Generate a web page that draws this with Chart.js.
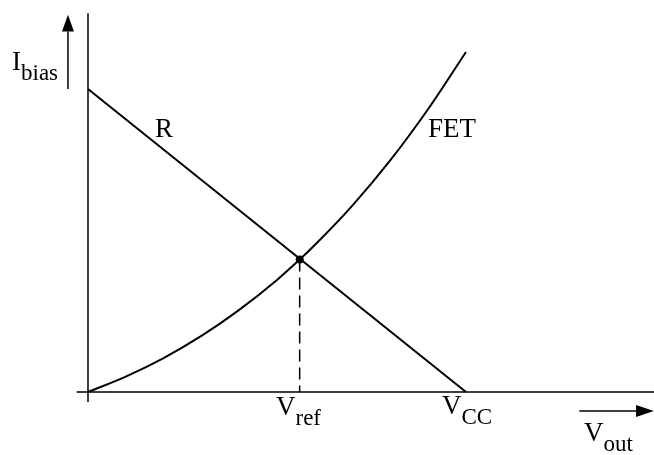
<!DOCTYPE html>
<html>
<head>
<meta charset="utf-8">
<script src="https://cdn.jsdelivr.net/npm/chart.js@4/dist/chart.umd.min.js"></script>
<style>
  html, body { margin: 0; padding: 0; background: #fff; }
  canvas { display: block; }
</style>
</head>
<body>
<canvas id="bias" width="654" height="455"></canvas>
<script>
// load line / FET operating point sketch
var vout = [0, 0.1, 0.2, 0.3, 0.4, 0.5, 0.56, 0.6, 0.7, 0.8, 0.9, 1.0];
var fetCurrent = [0, 0.051, 0.112, 0.185, 0.271, 0.37, 0.437, 0.485, 0.616, 0.765, 0.934, 1.122];
var resistorV = [0, 1];
var resistorI = [1, 0];
var vRef = 0.56;
var iRef = 0.437;

var serif = '"Liberation Serif", "Times New Roman", serif';

function pts(xs, ys) {
  return xs.map(function (x, i) { return { x: x, y: ys[i] }; });
}

function label(ctx, main, sub, x, y) {
  ctx.font = '27px ' + serif;
  ctx.fillText(main, x, y);
  if (sub) {
    var w = ctx.measureText(main).width;
    ctx.font = '23px ' + serif;
    ctx.fillText(sub, x + w, y + 10);
  }
}

// axes, arrows and text drawn on the library's scales
var sketch = {
  id: 'sketch',
  afterDatasetsDraw: function (chart) {
    var ctx = chart.ctx;
    var sx = chart.scales.x, sy = chart.scales.y;
    var px = function (v) { return sx.getPixelForValue(v); };
    var py = function (v) { return sy.getPixelForValue(v); };
    ctx.save();
    ctx.strokeStyle = '#000';
    ctx.fillStyle = '#000';
    ctx.lineWidth = 1.5;

    // axes
    ctx.beginPath();
    ctx.moveTo(px(0), py(1.25));
    ctx.lineTo(px(0), py(-0.033));
    ctx.moveTo(px(-0.03), py(0));
    ctx.lineTo(px(1.5), py(0));
    ctx.stroke();

    // I_bias arrow
    var ax = px(-0.053);
    ctx.beginPath();
    ctx.moveTo(ax, py(1.0));
    ctx.lineTo(ax, py(1.19));
    ctx.stroke();
    ctx.beginPath();
    ctx.moveTo(ax, py(1.245));
    ctx.lineTo(ax - 6, py(1.19));
    ctx.lineTo(ax + 6, py(1.19));
    ctx.closePath();
    ctx.fill();

    // V_out arrow
    var ay = py(-0.063);
    ctx.beginPath();
    ctx.moveTo(px(1.3), ay);
    ctx.lineTo(px(1.45), ay);
    ctx.stroke();
    ctx.beginPath();
    ctx.moveTo(px(1.497), ay);
    ctx.lineTo(px(1.45), ay - 6);
    ctx.lineTo(px(1.45), ay + 6);
    ctx.closePath();
    ctx.fill();

    ctx.textAlign = 'left';
    ctx.textBaseline = 'alphabetic';
    label(ctx, 'I', 'bias', 12, 70);
    label(ctx, 'R', null, 155, 137);
    label(ctx, 'FET', null, 428, 137);
    label(ctx, 'V', 'ref', 276, 415);
    label(ctx, 'V', 'CC', 442, 414);
    label(ctx, 'V', 'out', 584, 441);
    ctx.restore();
  }
};

new Chart(document.getElementById('bias').getContext('2d'), {
  type: 'scatter',
  data: {
    datasets: [{
      label: 'R',
      data: pts(resistorV, resistorI),
      showLine: true,
      borderColor: '#000',
      borderWidth: 2,
      pointRadius: 0
    }, {
      label: 'FET',
      data: pts(vout, fetCurrent),
      showLine: true,
      cubicInterpolationMode: 'monotone',
      borderColor: '#000',
      borderWidth: 2,
      pointRadius: 0
    }, {
      label: 'Vref',
      data: [{ x: vRef, y: iRef }, { x: vRef, y: 0 }],
      showLine: true,
      borderColor: '#000',
      borderWidth: 1.5,
      borderDash: [12, 6],
      pointRadius: [4, 0],
      pointBackgroundColor: '#000',
      pointBorderWidth: 0
    }]
  },
  options: {
    responsive: false,
    animation: false,
    layout: { padding: 0, autoPadding: false },
    plugins: { legend: { display: false }, tooltip: { enabled: false } },
    scales: {
      x: { type: 'linear', display: false, min: -0.2328, max: 1.4974 },
      y: { type: 'linear', display: false, min: -0.2079, max: 1.2937 }
    }
  },
  plugins: [sketch]
});
</script>
</body>
</html>
